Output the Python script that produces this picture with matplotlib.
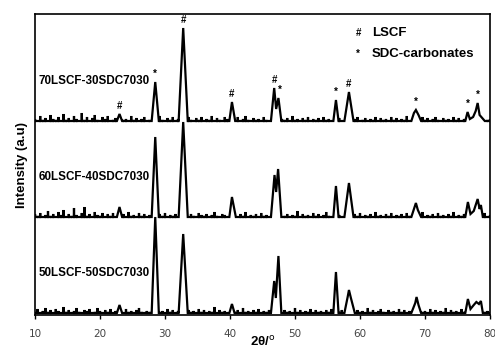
import matplotlib as mpl
mpl.use('Agg')
import matplotlib.pyplot as plt

# XRD patterns of LSCF / SDC7030 composites ##################

# peak groups, vertices (2theta, intensity above baseline)
peaks_70 = [[(22.6, 0), (23.0, 7), (23.4, 0)],
            [(27.95, 0), (28.5, 39), (29.05, 0)],
            [(32.1, 0), (32.8, 93), (33.5, 0)],
            [(39.9, 0), (40.3, 19), (40.8, 0)],
            [(46.3, 0), (46.8, 33), (47.1, 12), (47.45, 23), (47.9, 0)],
            [(55.9, 0), (56.3, 21), (56.7, 0)],
            [(57.6, 0), (58.3, 29), (59.0, 0)],
            [(67.9, 0), (68.3, 8), (68.6, 11), (69.0, 6), (69.4, 0)],
            [(76.2, 0), (76.55, 9), (76.9, 2), (77.4, 4), (77.8, 10), (78.1, 18), (78.4, 6), (78.8, 3), (79.2, 0)]]

peaks_60 = [[(22.6, 0), (23.0, 10), (23.4, 0)],
            [(27.95, 0), (28.5, 80), (29.05, 0)],
            [(32.1, 0), (32.8, 95), (33.5, 0)],
            [(39.9, 0), (40.3, 20), (40.6, 10), (40.9, 0)],
            [(46.3, 0), (46.85, 42), (47.1, 25), (47.4, 48), (47.9, 0)],
            [(55.9, 0), (56.3, 31), (56.7, 0)],
            [(57.6, 0), (58.3, 34), (59.0, 0)],
            [(67.9, 0), (68.3, 8), (68.6, 14), (68.9, 7), (69.4, 0)],
            [(76.2, 0), (76.6, 15), (77.0, 3), (77.5, 6), (77.8, 12), (78.1, 18), (78.4, 8), (78.6, 12), (78.9, 0)]]

peaks_50 = [[(22.6, 0), (23.0, 8), (23.4, 0)],
            [(27.95, 0), (28.5, 96), (29.05, 0)],
            [(32.1, 0), (32.8, 79), (33.5, 0)],
            [(39.9, 0), (40.3, 9), (40.7, 0)],
            [(46.3, 0), (46.8, 32), (47.05, 15), (47.45, 57), (47.9, 0)],
            [(55.9, 0), (56.3, 41), (56.7, 0)],
            [(57.6, 0), (58.1, 16), (58.3, 23), (58.6, 15), (59.2, 0)],
            [(67.9, 0), (68.5, 10), (68.7, 16), (69.0, 8), (69.4, 0)],
            [(76.2, 0), (76.6, 14), (77.0, 4), (77.5, 8), (77.9, 11), (78.3, 9), (78.6, 12), (78.9, 0)]]

# background spikes, one value every 0.4 deg from 10 to 80
noise_70 = [2, 0, 5, 1, 3, 0, 6, 2, 1, 4, 0, 7, 1, 3, 0, 5, 2, 0, 8, 1, 4, 0, 3, 6, 1, 0, 4, 2, 5, 0,
            1, 3, 0, 4, 1, 2, 0, 5, 1, 3, 0, 2, 4, 0, 1, 3, 0, 2, 5, 1, 0, 3, 1, 4, 0, 2, 1, 3, 0, 4,
            1, 0, 3, 1, 4, 0, 2, 1, 5, 0, 3, 1, 0, 4, 2, 0, 3, 1, 4, 0, 2, 5, 1, 0, 3, 1, 2, 0, 4, 1,
            0, 3, 1, 4, 0, 2, 1, 3, 0, 5, 1, 2, 0, 3, 1, 4, 0, 2, 1, 3, 0, 4, 1, 2, 0, 5, 1, 3, 0, 2,
            1, 3, 0, 2, 4, 0, 1, 3, 0, 2, 1, 4, 0, 3, 1, 2, 0, 4, 1, 3, 0, 2, 1, 5, 0, 3, 1, 2, 0, 4,
            1, 3, 0, 2, 4, 1, 0, 3, 1, 2, 0, 4, 1, 3, 0, 2, 1, 4, 0, 3, 1, 2, 0, 3, 1, 2]

noise_60 = [3, 1, 4, 0, 2, 6, 1, 3, 0, 5, 2, 7, 0, 3, 1, 9, 2, 0, 4, 10, 1, 3, 0, 5, 2, 1, 4, 0, 3, 1,
            4, 0, 2, 1, 3, 0, 5, 1, 2, 0, 4, 1, 3, 0, 2, 5, 1, 0, 3, 1, 4, 0, 2, 1, 3, 0, 4, 1, 2, 0,
            3, 1, 0, 4, 2, 1, 3, 0, 2, 5, 1, 0, 3, 2, 0, 4, 1, 2, 0, 3, 1, 5, 0, 2, 1, 3, 0, 4, 1, 2,
            0, 3, 1, 2, 4, 0, 1, 3, 0, 2, 1, 6, 0, 3, 1, 2, 0, 4, 1, 3, 0, 2, 5, 1, 0, 3, 1, 2, 0, 4,
            1, 2, 0, 3, 1, 4, 0, 2, 1, 3, 0, 5, 1, 2, 0, 3, 1, 4, 0, 2, 1, 3, 0, 4, 1, 2, 0, 3, 1, 5,
            0, 2, 1, 3, 0, 4, 1, 2, 0, 3, 1, 5, 0, 2, 1, 3, 0, 4, 1, 2, 0, 3, 1, 4, 0, 2]

noise_50 = [1, 4, 0, 2, 5, 1, 3, 0, 4, 2, 0, 6, 1, 3, 0, 2, 5, 1, 0, 3, 2, 4, 0, 1, 5, 2, 0, 3, 1, 4,
            0, 2, 1, 3, 0, 4, 1, 2, 0, 3, 5, 1, 0, 2, 1, 4, 0, 3, 1, 2, 0, 4, 1, 3, 0, 2, 1, 5, 0, 3,
            1, 2, 0, 4, 1, 3, 0, 2, 1, 6, 0, 3, 1, 2, 0, 4, 2, 1, 3, 0, 5, 1, 2, 0, 3, 1, 4, 0, 2, 1,
            3, 0, 2, 1, 4, 0, 3, 1, 2, 0, 5, 1, 3, 0, 2, 1, 4, 0, 3, 1, 2, 0, 3, 1, 4, 0, 2, 1, 3, 0,
            2, 4, 1, 0, 3, 1, 2, 0, 5, 1, 3, 0, 2, 4, 1, 0, 3, 1, 2, 0, 4, 1, 3, 0, 2, 1, 5, 0, 3, 1,
            2, 0, 4, 1, 3, 0, 2, 1, 5, 0, 3, 1, 2, 0, 4, 1, 3, 0, 2, 1, 4, 0, 3, 1, 2, 0]

sample_names = ['70LSCF-30SDC7030', '60LSCF-40SDC7030', '50LSCF-50SDC7030']
offsets = [192, 96, 0]
baseline = 2

# reflections marked on the 70/30 pattern: (2theta, symbol, peak intensity)
marks_70 = [(23.0, '#', 7), (28.5, '*', 39), (32.8, '#', 93), (40.3, '#', 19), (46.8, '#', 33),
            (47.6, '*', 23), (56.3, '*', 21), (58.3, '#', 29), (68.6, '*', 11), (76.55, '*', 9),
            (78.1, '*', 18)]

xticks = [10, 20, 30, 40, 50, 60, 70, 80]


def build_trace(peaks, noise):
    pts = [(10.0, 0), (80.0, 0)] + [p for grp in peaks for p in grp]
    for i, h in enumerate(noise):
        x = 10 + 0.4 * i
        if h == 0 or any(grp[0][0] - 0.05 <= x <= grp[-1][0] + 0.05 for grp in peaks):
            continue
        pts += [(x - 0.03, 0), (x, h), (x + 0.03, 0)]
    pts.sort(key=lambda p: p[0])
    return [p[0] for p in pts], [p[1] for p in pts]


fig = plt.figure(figsize=(4.95, 3.5), dpi=100)
ax = fig.add_axes([35 / 495, 35 / 350, 455 / 495, 301 / 350])

bold = dict(family='Liberation Sans', weight='bold')

for name, off, peaks, noise in zip(sample_names, offsets,
                                   [peaks_70, peaks_60, peaks_50],
                                   [noise_70, noise_60, noise_50]):
    x, y = build_trace(peaks, noise)
    ax.plot(x, [v + off + baseline for v in y], color='black', lw=1.6, solid_joinstyle='miter')
    ax.text(10.5, off + baseline + 40, name, fontsize=8.4, ha='left', va='center', **bold)

for x, sym, h in marks_70:
    ax.annotate(sym, (x, offsets[0] + baseline + h), xytext=(0, 2), textcoords='offset points',
                ha='center', va='bottom', fontsize=7, **bold)

# legend of reflection symbols
ax.text(0.705, 0.937, '#', transform=ax.transAxes, fontsize=7, ha='left', va='center', **bold)
ax.text(0.74, 0.937, 'LSCF', transform=ax.transAxes, fontsize=9.5, ha='left', va='center', **bold)
ax.text(0.705, 0.867, '*', transform=ax.transAxes, fontsize=7, ha='left', va='center', **bold)
ax.text(0.74, 0.867, 'SDC-carbonates', transform=ax.transAxes, fontsize=9.5, ha='left', va='center', **bold)

ax.set_xlim(10, 80)
ax.set_ylim(0, 301)
ax.set_xticks(xticks)
ax.set_xticklabels([str(t) for t in xticks], color='#444444', fontsize=7.5)
ax.set_yticks([])
ax.tick_params(axis='x', direction='out', length=3, width=1, pad=7)
for s in ax.spines.values():
    s.set_linewidth(1.2)

ax.set_xlabel('2θ/$^{\\rm o}$', fontsize=9.5, labelpad=-3, **bold)
ax.set_ylabel('Intensity (a.u)', fontsize=9.5, labelpad=5, **bold)

fig.savefig('out.png', dpi=100)
